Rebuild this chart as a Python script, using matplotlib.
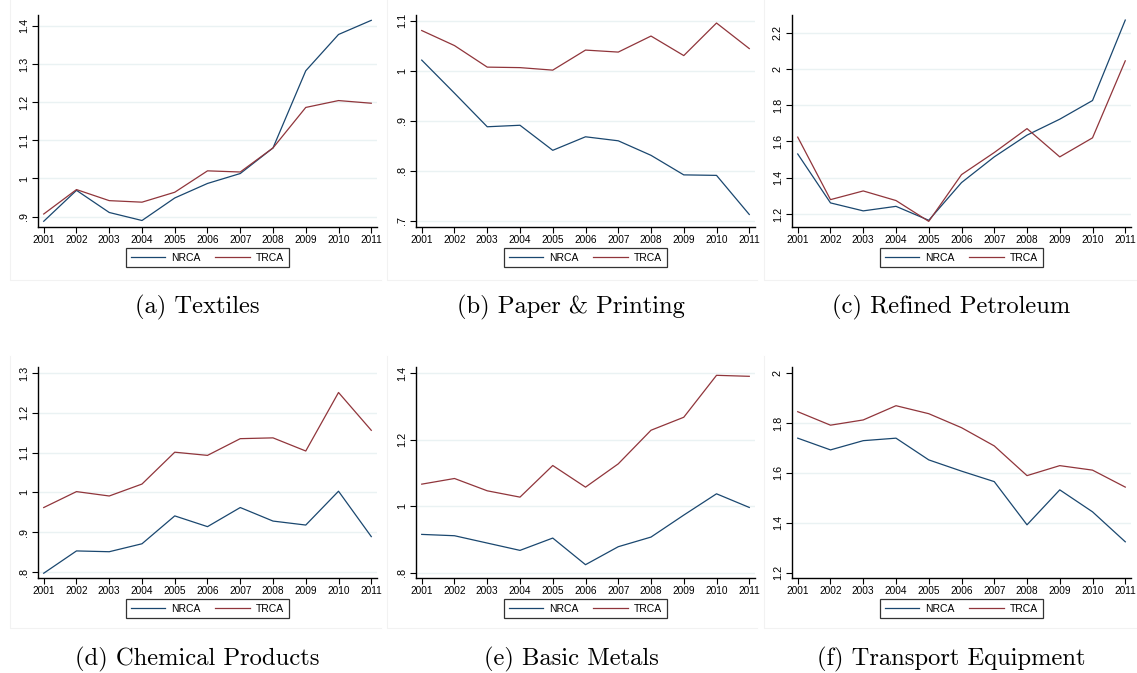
import matplotlib
matplotlib.use('Agg')
import matplotlib.pyplot as plt
from matplotlib.lines import Line2D

plt.rcParams['font.family'] = ['Liberation Sans', 'DejaVu Sans']

years = list(range(2001, 2012))
series_names = ['NRCA', 'TRCA']

textiles_nrca = [0.888, 0.969, 0.911, 0.890, 0.949, 0.987, 1.013, 1.080, 1.282, 1.377, 1.414]
textiles_trca = [0.907, 0.971, 0.942, 0.938, 0.964, 1.020, 1.017, 1.080, 1.186, 1.204, 1.197]
paper_nrca = [1.021, 0.955, 0.888, 0.891, 0.841, 0.868, 0.860, 0.831, 0.792, 0.791, 0.713]
paper_trca = [1.080, 1.050, 1.007, 1.006, 1.001, 1.041, 1.037, 1.069, 1.030, 1.095, 1.044]
petrol_nrca = [1.531, 1.261, 1.217, 1.242, 1.165, 1.373, 1.515, 1.635, 1.723, 1.826, 2.270]
petrol_trca = [1.624, 1.279, 1.327, 1.274, 1.159, 1.417, 1.539, 1.671, 1.515, 1.620, 2.045]
chem_nrca = [0.797, 0.853, 0.851, 0.871, 0.941, 0.914, 0.962, 0.928, 0.918, 1.003, 0.889]
chem_trca = [0.962, 1.002, 0.991, 1.021, 1.101, 1.093, 1.135, 1.137, 1.104, 1.251, 1.156]
metals_nrca = [0.915, 0.911, 0.889, 0.867, 0.904, 0.824, 0.878, 0.907, 0.973, 1.037, 0.996]
metals_trca = [1.066, 1.083, 1.046, 1.027, 1.122, 1.057, 1.127, 1.228, 1.267, 1.393, 1.390]
transport_nrca = [1.739, 1.692, 1.729, 1.739, 1.652, 1.607, 1.565, 1.392, 1.532, 1.444, 1.324]
transport_trca = [1.845, 1.791, 1.812, 1.869, 1.837, 1.781, 1.708, 1.589, 1.629, 1.611, 1.543]

captions = ['(a) Textiles', '(b) Paper & Printing', '(c) Refined Petroleum',
            '(d) Chemical Products', '(e) Basic Metals', '(f) Transport Equipment']

yticks = [[0.9, 1.0, 1.1, 1.2, 1.3, 1.4],
          [0.7, 0.8, 0.9, 1.0, 1.1],
          [1.2, 1.4, 1.6, 1.8, 2.0, 2.2],
          [0.8, 0.9, 1.0, 1.1, 1.2, 1.3],
          [0.8, 1.0, 1.2, 1.4],
          [1.2, 1.4, 1.6, 1.8, 2.0]]
ytick_labels = [['.9', '1', '1.1', '1.2', '1.3', '1.4'],
                ['.7', '.8', '.9', '1', '1.1'],
                ['1.2', '1.4', '1.6', '1.8', '2', '2.2'],
                ['.8', '.9', '1', '1.1', '1.2', '1.3'],
                ['.8', '1', '1.2', '1.4'],
                ['1.2', '1.4', '1.6', '1.8', '2']]
ylims = [(0.873, 1.428), (0.688, 1.111), (1.128, 2.298),
         (0.785, 1.315), (0.784, 1.418), (1.179, 2.024)]

nrca_all = [textiles_nrca, paper_nrca, petrol_nrca, chem_nrca, metals_nrca, transport_nrca]
trca_all = [textiles_trca, paper_trca, petrol_trca, chem_trca, metals_trca, transport_trca]

navy = '#1a476f'
maroon = '#90353b'
grid_col = '#eaf2f3'

W, H = 1137, 673
fig = plt.figure(figsize=(W / 100, H / 100), dpi=100)


def px_rect(l, t, r, b):
    return [l / W, 1 - b / H, (r - l) / W, (b - t) / H]


ax_lefts = [38, 416, 792]
row_tops = [15, 367]
row_bottoms = [227, 578]
img_lefts = [10, 387, 764]
img_rights = [381, 757, 1137]
img_tops = [0, 356]
img_bottoms = [280, 628]
cap_x = [197, 571, 951]
cap_y = [307, 659]

for i in range(6):
    row, col = divmod(i, 3)

    # faint left / bottom edge of each exported sub-graph
    x0, x1 = img_lefts[col] / W, img_rights[col] / W
    y0, y1 = 1 - img_bottoms[row] / H, 1 - img_tops[row] / H
    fig.lines.append(Line2D([x0, x0, x1], [y1, y0, y0], transform=fig.transFigure,
                            color='#f2f2f2', lw=0.8))

    ax = fig.add_axes(px_rect(ax_lefts[col], row_tops[row], ax_lefts[col] + 339, row_bottoms[row]))
    ax.plot(years, nrca_all[i], color=navy, lw=0.9, label=series_names[0])
    ax.plot(years, trca_all[i], color=maroon, lw=0.9, label=series_names[1])

    ax.set_xlim(2000.825, 2011.175)
    ax.set_ylim(*ylims[i])
    ax.set_xticks(years)
    ax.set_xticklabels([str(y) for y in years])
    ax.set_yticks(yticks[i])
    ax.set_yticklabels(ytick_labels[i], rotation=90, va='center')

    ax.spines['top'].set_visible(False)
    ax.spines['right'].set_visible(False)
    ax.spines['left'].set_linewidth(1.0)
    ax.spines['bottom'].set_linewidth(1.0)
    ax.tick_params(axis='both', direction='out', length=4, width=0.8, colors='black')
    ax.tick_params(axis='x', pad=1.5, labelsize=7.3)
    ax.tick_params(axis='y', pad=2.5, labelsize=7.8)

    ax.yaxis.grid(True, color=grid_col, lw=1.0)
    ax.set_axisbelow(True)
    if i == 5:
        gl = ax.get_ygridlines()
        gl[0].set_visible(False)
        gl[-1].set_visible(False)

    leg = ax.legend(loc='upper center', bbox_to_anchor=(0.5, -0.099), ncol=2,
                    fontsize=7.5, frameon=True, fancybox=False, edgecolor='black',
                    handlelength=3.3, handletextpad=0.6, columnspacing=1.4,
                    borderpad=0.45, borderaxespad=0)
    leg.get_frame().set_linewidth(0.9)

    fig.text(cap_x[col] / W, 1 - cap_y[row] / H, captions[i], ha='center', va='center',
             fontsize=17.7, family=['cmr10', 'DejaVu Serif'])

fig.savefig('out.png', dpi=100, facecolor='white')
